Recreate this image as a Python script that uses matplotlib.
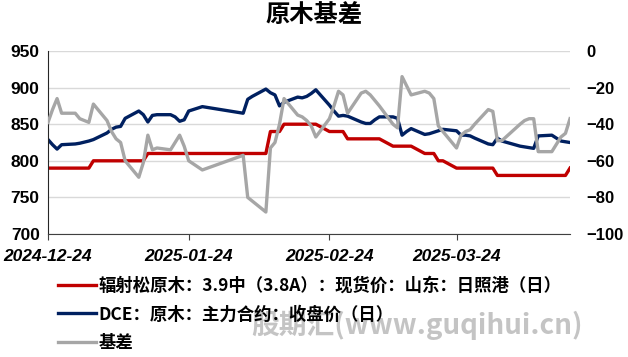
import numpy as np
import pandas as pd
import matplotlib
matplotlib.use('Agg')
import matplotlib.pyplot as plt
import matplotlib.dates as mdates
from matplotlib.lines import Line2D

# Fechas de negociacion (dias habiles sin feriados chinos)
feriados = ['2025-01-01', '2025-01-28', '2025-01-29', '2025-01-30', '2025-01-31',
            '2025-02-03', '2025-02-04', '2025-04-04']
fechas = pd.bdate_range('2024-12-24', '2025-04-18', freq='C', holidays=feriados)

# Precio spot: 辐射松原木 3.9中 (3.8A) 日照港
spot = [790, 790, 790, 790, 790, 790,
        790, 800, 800, 800, 800, 800, 800, 800, 800, 810, 810, 810, 810, 810, 810, 810, 810, 810,
        810, 810, 810, 810, 840, 840, 840, 850, 850, 850, 850, 850, 850, 840, 840, 840, 840, 830,
        830, 830, 830, 830, 830, 820, 820, 820, 820, 820, 810, 810, 810, 800, 800,
        790, 790, 790, 790, 790, 790,
        790, 780, 780, 780, 780, 780, 780, 780, 780, 780, 780, 780, 790]

# DCE 原木 主力合约 收盘价
futuros = [829, 822, 816, 822, 823, 824,
           827, 829, 838, 843, 846, 847, 858, 868, 863, 853, 862, 863, 863, 860, 854, 856, 868, 874,
           865, 884, 888, 898, 893, 890, 875, 880, 887, 886, 888, 892, 897, 876, 868, 861, 862, 861,
           853, 851, 851, 856, 860, 860, 858, 835, 840, 844, 836, 837, 839, 841, 843,
           841, 835, 835, 834, 831, 823,
           822, 831, 827, 820, 819, 818, 817, 834, 835, 831, 827, 826, 825]

# 基差 (eje derecho)
base = [-39, -32, -26, -34, -34, -37,
        -39, -29, -38, -44, -48, -50, -60, -69, -61, -46, -54, -53, -54, -50, -46, -52, -60, -65,
        -57, -80, -82, -88, -53, -50, -40, -26, -35, -36, -38, -41, -47, -37, -30, -22, -24, -34,
        -23, -22, -24, -27, -30, -40, -42, -14, -19, -24, -22, -23, -26, -41, -44,
        -53, -46, -44, -43, -40, -32,
        -33, -49, -49, -40, -38, -37, -37, -55, -55, -51, -47, -45, -37]

etiquetas = ['辐射松原木：3.9中（3.8A）：现货价：山东：日照港（日）',
             'DCE：原木：主力合约：收盘价（日）',
             '基差']
colores = ['#C00000', '#002060', '#A6A6A6']
ticks_x = pd.to_datetime(['2024-12-24', '2025-01-24', '2025-02-24', '2025-03-24'])

fuente_cjk = ['Noto Sans CJK SC', 'DejaVu Sans']
fuente_num = ['Liberation Sans', 'DejaVu Sans']

W, H = 628, 357
fig = plt.figure(figsize=(W / 100, H / 100), dpi=100)
ax = fig.add_axes([48 / W, 1 - 234 / H, (570 - 48) / W, (234 - 51) / H])
ax2 = ax.twinx()

ax.plot(fechas, spot, color=colores[0], lw=2.4, solid_joinstyle='round')
ax.plot(fechas, futuros, color=colores[1], lw=2.4, solid_joinstyle='round')
ax2.plot(fechas, base, color=colores[2], lw=2.4, solid_joinstyle='round')

ax.set_ylim(700, 950)
ax.set_yticks(np.arange(700, 951, 50))
ax2.set_ylim(-100, 0)
ax2.set_yticks(np.arange(-100, 1, 20))
ax.set_xlim(fechas[0], fechas[-1])
ax.set_xticks(ticks_x)
ax.xaxis.set_major_formatter(mdates.DateFormatter('%Y-%m-%d'))

ax.grid(axis='y', color='#D9D9D9', lw=1)
ax.set_axisbelow(True)
for a in (ax, ax2):
    a.spines['top'].set_visible(False)
    a.spines['right'].set_visible(False)
ax2.spines['left'].set_visible(False)
ax2.spines['bottom'].set_visible(False)
ax.spines['left'].set_color('#262626')
ax.spines['bottom'].set_color('#404040')

ax.tick_params(axis='y', length=0, pad=6)
ax2.tick_params(axis='y', length=0, pad=12)
ax.tick_params(axis='x', length=4, color='#404040', pad=7)
for lab in ax.get_yticklabels():
    lab.set_fontfamily(fuente_num)
    lab.set_fontweight('bold')
    lab.set_fontsize(12.5)
for lab in ax2.get_yticklabels():
    lab.set_fontfamily(fuente_num)
    lab.set_fontweight('bold')
    lab.set_fontsize(12)
for lab in ax.get_xticklabels():
    lab.set_fontfamily(fuente_num)
    lab.set_fontweight('bold')
    lab.set_fontstyle('italic')
    lab.set_fontsize(12.5)

fig.text(0.5, 1 - 15 / H, '原木基差', ha='center', va='center',
         family=fuente_cjk, fontweight='bold', fontsize=17.5)

# marca de agua
fig.text(417 / W, 1 - 325 / H, '股期汇(www.guqihui.cn)', ha='center', va='center',
         family=fuente_cjk, fontweight='bold', fontstyle='italic', fontsize=20,
         color='#C4C4C4', zorder=0)

handles = [Line2D([], [], color=c, lw=2.4) for c in colores]
leg = fig.legend(handles, etiquetas, loc='upper left', bbox_to_anchor=(58 / W, 1 - 277 / H),
                 frameon=False, handlelength=2.2, handletextpad=0.12, labelspacing=0.6,
                 borderaxespad=0, borderpad=0,
                 prop={'family': fuente_cjk, 'weight': 'bold', 'size': 12.5})

fig.savefig('out.png', dpi=100)
